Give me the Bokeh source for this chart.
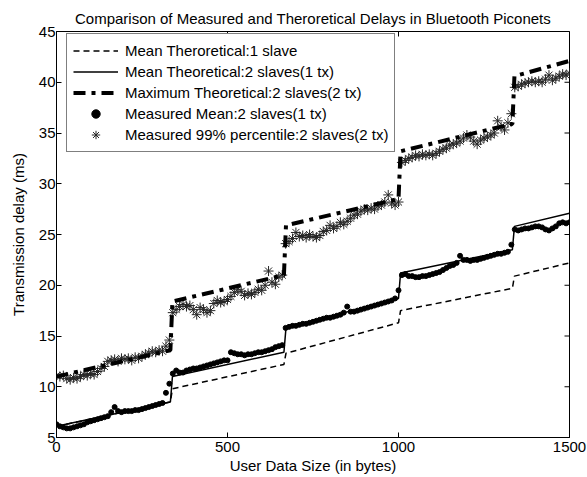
import math
from bokeh.plotting import figure
from bokeh.models import FixedTicker, Range1d, Legend, LegendItem
from bokeh.embed import file_html
from bokeh.resources import INLINE

# ---------------- data ----------------
x_theory = [0, 333, 339, 665, 671, 1000, 1006, 1333, 1339, 1500]
mean_theory_1slave = [6.1, 8.5, 9.8, 12.2, 13.3, 16.3, 17.5, 19.7, 20.9, 22.2]
mean_theory_2slaves_1tx = [6.1, 8.5, 11.0, 13.4, 15.8, 18.7, 21.2, 23.5, 25.8, 27.1]
max_theory_2slaves_2tx = [11.0, 13.6, 18.4, 21.0, 25.9, 28.5, 33.2, 35.9, 40.6, 42.1]

x_measured = list(range(0, 1501, 10))
measured_mean = [
    6.3, 6.1, 6.0, 5.9, 5.9, 6.0, 6.1, 6.2, 6.3, 6.5,
    6.6, 6.7, 6.8, 6.9, 7.0, 7.1, 7.5, 8.0, 7.6, 7.5,
    7.6, 7.6, 7.6, 7.7, 7.7, 7.8, 7.9, 8.0, 8.1, 8.2,
    8.3, 8.4, 9.4, 10.3, 11.3, 11.6, 11.4, 11.4, 11.6, 11.7,
    11.8, 11.8, 11.9, 12.0, 12.1, 12.2, 12.3, 12.4, 12.5, 12.6,
    12.6, 13.4, 13.3, 13.2, 13.2, 13.1, 13.2, 13.2, 13.3, 13.4,
    13.4, 13.5, 13.6, 13.7, 13.9, 14.0, 14.1, 15.8, 15.9, 16.0,
    16.0, 16.1, 16.2, 16.2, 16.3, 16.4, 16.5, 16.6, 16.7, 16.8,
    16.8, 16.9, 17.0, 17.1, 17.3, 17.9, 17.4, 17.4, 17.5, 17.6,
    17.7, 17.8, 17.9, 18.0, 18.1, 18.2, 18.3, 18.4, 18.5, 18.7,
    19.5, 21.0, 21.1, 20.9, 20.9, 20.8, 20.8, 20.9, 20.9, 21.0,
    21.1, 21.2, 21.3, 21.5, 21.7, 21.9, 22.0, 22.2, 22.9, 22.5,
    22.5, 22.4, 22.5, 22.5, 22.6, 22.7, 22.8, 22.9, 23.0, 23.1,
    23.1, 23.2, 23.3, 24.0, 25.5, 25.4, 25.5, 25.6, 25.6, 25.7,
    25.8, 25.8, 25.7, 25.5, 25.4, 25.6, 25.8, 26.1, 26.2, 26.1,
    26.2,
]
measured_99 = [
    11.1, 11.0, 11.1, 10.8, 10.7, 10.9, 10.8, 11.0, 11.2, 11.1,
    11.3, 11.2, 11.5, 11.8, 12.0, 12.5, 12.6, 12.7, 12.5, 12.8,
    12.7, 12.8, 12.6, 12.9, 12.8, 13.0, 13.2, 13.3, 13.5, 13.4,
    13.6, 13.5, 14.0, 14.6, 17.3, 17.6, 17.9, 18.1, 17.9, 18.0,
    17.6, 17.1, 17.8, 17.6, 17.3, 17.5, 18.2, 18.5, 18.3, 18.4,
    18.6, 18.9, 19.3, 19.6, 19.4, 19.0, 19.2, 19.1, 19.3, 19.6,
    19.5, 20.0, 21.4, 20.3, 20.1, 20.8, 21.0, 24.1, 24.3, 24.6,
    25.2, 24.8, 24.9, 24.7, 25.0, 24.8, 24.7, 24.9, 25.3, 25.4,
    25.9, 25.6, 25.8, 26.2, 26.0, 26.3, 26.6, 26.9, 27.0, 27.3,
    27.5, 27.4, 27.6, 27.5, 27.8, 27.9, 28.2, 28.9, 28.1, 27.9,
    28.2, 32.1, 32.3, 32.5, 32.6, 32.8, 32.7, 32.9, 32.8, 32.9,
    32.8, 33.0, 33.2, 33.4, 33.5, 33.8, 33.9, 34.0, 34.2, 34.5,
    34.8, 34.6, 34.2, 33.9, 34.3, 34.5, 34.6, 34.8, 35.0, 36.2,
    35.6, 35.3, 36.0, 36.9, 39.5, 39.6, 39.8, 39.9, 40.0, 40.1,
    40.0, 40.1, 40.0, 40.3, 40.7, 40.2, 40.4, 40.6, 40.8, 40.7,
    40.9,
]

x_ticks = [0, 500, 1000, 1500]
y_ticks = [5, 10, 15, 20, 25, 30, 35, 40, 45]

title_text = "Comparison of Measured and Theroretical Delays in Bluetooth Piconets"
x_label = "User Data Size (in bytes)"
y_label = "Transmission delay (ms)"
legend_labels = [
    "Mean Theroretical:1 slave",
    "Mean Theoretical:2 slaves(1 tx)",
    "Maximum Theoretical:2 slaves(2 tx)",
    "Measured Mean:2 slaves(1 tx)",
    "Measured 99% percentile:2 slaves(2 tx)",
]

FONT = "Liberation Sans"
FS = "15px"

# ---------------- figure ----------------
p = figure(width=587, height=477, output_backend="svg", toolbar_location=None,
           x_range=Range1d(x_ticks[0], x_ticks[-1]), y_range=Range1d(y_ticks[0], y_ticks[-1]),
           min_border_left=56, min_border_right=18, min_border_top=31,
           min_border_bottom=40, background_fill_color="white",
           border_fill_color="white")
p.title.text = title_text
p.title.align = "center"
p.title.text_font = FONT
p.title.text_font_size = FS
p.title.text_font_style = "normal"
p.title.text_color = "black"
p.title.standoff = 9
p.outline_line_color = "black"
p.outline_line_width = 1
p.grid.visible = False

for ax in (p.xaxis[0], p.yaxis[0]):
    ax.major_tick_in = 5
    ax.major_tick_out = 0
    ax.minor_tick_in = 0
    ax.minor_tick_out = 0
    ax.major_label_text_font = FONT
    ax.major_label_text_font_size = FS
    ax.axis_label_text_font = FONT
    ax.axis_label_text_font_size = FS
    ax.axis_label_text_font_style = "normal"
    ax.axis_label_text_color = "black"
    ax.axis_line_color = "black"
    ax.major_tick_line_color = "black"
    ax.major_label_text_color = "black"

p.xaxis[0].ticker = FixedTicker(ticks=x_ticks)
p.yaxis[0].ticker = FixedTicker(ticks=y_ticks)
p.xaxis[0].axis_label = x_label
p.yaxis[0].axis_label = y_label
p.xaxis[0].major_label_standoff = 4
p.xaxis[0].axis_label_standoff = 2
p.yaxis[0].major_label_standoff = 1
p.yaxis[0].axis_label_standoff = 9

# inward tick marks on the top and right edges (clipped to the frame)
p.scatter([x_ticks[-1]] * len(y_ticks), y_ticks, marker="dash", size=10,
          line_color="black", line_width=1)
p.scatter(x_ticks, [y_ticks[-1]] * len(x_ticks), marker="dash", size=10,
          angle=math.pi / 2, line_color="black", line_width=1)

# measured markers
r_mean = p.scatter(x_measured, measured_mean, marker="circle", size=5,
                   fill_color="black", line_color="black")
r_99 = p.scatter(x_measured, measured_99, marker="asterisk", size=10,
                 line_color="#262626", line_width=1)

# theoretical lines
r_1 = p.line(x_theory, mean_theory_1slave, line_color="black", line_width=1.5,
             line_dash="6 4")
r_2 = p.line(x_theory, mean_theory_2slaves_1tx, line_color="black", line_width=1.5)
r_3 = p.line(x_theory, max_theory_2slaves_2tx, line_color="black", line_width=4,
             line_dash="12 6 4 6")

legend = Legend(items=[
    LegendItem(label=legend_labels[0], renderers=[r_1]),
    LegendItem(label=legend_labels[1], renderers=[r_2]),
    LegendItem(label=legend_labels[2], renderers=[r_3]),
    LegendItem(label=legend_labels[3], renderers=[r_mean]),
    LegendItem(label=legend_labels[4], renderers=[r_99]),
], location=(10, 285))
legend.margin = 0
legend.padding = 6
legend.spacing = 0
legend.glyph_width = 45
legend.glyph_height = 21
legend.label_height = 21
legend.label_standoff = 7
legend.label_text_font = FONT
legend.label_text_font_size = FS
legend.label_text_color = "black"
legend.border_line_color = "black"
legend.border_line_width = 1
legend.background_fill_color = "white"
legend.background_fill_alpha = 1
p.add_layout(legend, "center")

open("out.html", "w").write(file_html(p, INLINE))
